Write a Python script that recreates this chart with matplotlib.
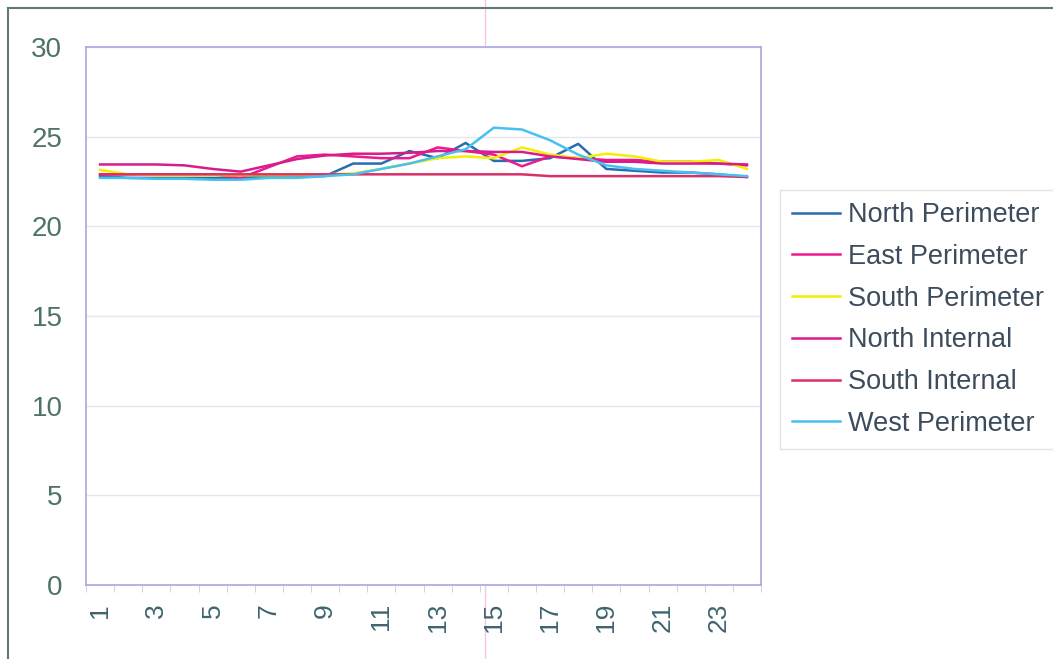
import matplotlib
matplotlib.use("Agg")
import matplotlib.pyplot as plt
from matplotlib.lines import Line2D

plt.rcParams['font.family'] = ['Liberation Sans', 'DejaVu Sans']

hours = list(range(1, 25))
tick_labels = [str(h) for h in range(1, 24, 2)]

north_perimeter = [22.8, 22.7, 22.7, 22.7, 22.7, 22.7, 22.8, 22.8, 22.8, 23.5, 23.5, 24.2,
                   23.8, 24.65, 23.65, 23.65, 23.8, 24.6, 23.2, 23.1, 23.0, 23.0, 22.9, 22.75]
east_perimeter = [22.9, 22.9, 22.9, 22.9, 22.9, 22.7, 23.3, 23.9, 24.0, 23.9, 23.8, 23.8,
                  24.4, 24.2, 24.0, 23.35, 23.9, 23.8, 23.7, 23.7, 23.6, 23.6, 23.5, 23.4]
south_perimeter = [23.15, 22.9, 22.85, 22.85, 22.85, 22.85, 22.85, 22.85, 22.9, 22.95, 23.2, 23.5,
                   23.8, 23.9, 23.8, 24.4, 24.0, 23.8, 24.05, 23.9, 23.6, 23.6, 23.7, 23.2]
north_internal = [23.45, 23.45, 23.45, 23.4, 23.2, 23.05, 23.4, 23.75, 23.95, 24.05, 24.05, 24.1,
                  24.2, 24.2, 24.15, 24.15, 23.9, 23.75, 23.6, 23.6, 23.5, 23.5, 23.5, 23.45]
south_internal = [22.9, 22.9, 22.9, 22.9, 22.9, 22.9, 22.9, 22.9, 22.9, 22.9, 22.9, 22.9,
                  22.9, 22.9, 22.9, 22.9, 22.8, 22.8, 22.8, 22.8, 22.8, 22.8, 22.8, 22.75]
west_perimeter = [22.7, 22.7, 22.65, 22.65, 22.6, 22.6, 22.7, 22.7, 22.8, 22.9, 23.2, 23.5,
                  23.9, 24.3, 25.5, 25.4, 24.8, 24.0, 23.4, 23.2, 23.1, 23.0, 22.9, 22.8]

series = [
    ("North Perimeter", north_perimeter, "#2a6cb0"),
    ("East Perimeter", east_perimeter, "#f01890"),
    ("South Perimeter", south_perimeter, "#f4ee00"),
    ("North Internal", north_internal, "#d81c8c"),
    ("South Internal", south_internal, "#d83068"),
    ("West Perimeter", west_perimeter, "#48c0f0"),
]

fig = plt.figure(figsize=(10.53, 6.59), dpi=100)
ax = fig.add_axes([86 / 1053, 1 - 585 / 659, 675 / 1053, 538 / 659])

for name, vals, col in series:
    ax.plot(hours, vals, color=col, lw=1.8, label=name)

ax.set_xlim(0.5, 24.5)
ax.set_ylim(0, 30)
ax.set_yticks(range(0, 31, 5))
ax.yaxis.grid(True, color="#e6e6f0", lw=1)
ax.set_axisbelow(True)
ax.set_xticks(range(1, 24, 2))
ax.set_xticklabels(tick_labels, rotation=90)
ax.set_xticks([h + 0.5 for h in range(0, 25)], minor=True)
ax.tick_params(axis="x", which="major", length=0, pad=13, labelsize=19, labelcolor="#3e6470")
ax.tick_params(axis="x", which="minor", length=5, color="#c8c8dc", direction="out")
ax.tick_params(axis="y", length=0, pad=17, labelsize=20, labelcolor="#4e7268")
for side in ax.spines.values():
    side.set_color("#a8a8e0")
    side.set_linewidth(1.2)

leg = fig.legend(loc="upper left", bbox_to_anchor=(780 / 1053, 1 - 190 / 659),
                 frameon=True, fancybox=False, fontsize=19.5, handlelength=1.75,
                 handletextpad=0.3, labelspacing=0.58, borderpad=0.45,
                 borderaxespad=0)
leg.get_frame().set_edgecolor("#dcdce4")
leg.get_frame().set_linewidth(1.0)
for t in leg.get_texts():
    t.set_color("#3c4c5c")
for h in leg.get_lines():
    h.set_linewidth(1.8)

# outer chart frame (left and top edges) and faint vertical rule
fig.add_artist(Line2D([8 / 1053, 8 / 1053], [0, 1 - 8 / 659], color="#5e7a72", lw=1.5))
fig.add_artist(Line2D([8 / 1053, 1], [1 - 8 / 659, 1 - 8 / 659], color="#5e7a72", lw=1.5))
fig.add_artist(Line2D([485 / 1053, 485 / 1053], [0, 1], color="#f2c4ee", lw=1.0, zorder=0))

fig.savefig("out.png", dpi=100)
